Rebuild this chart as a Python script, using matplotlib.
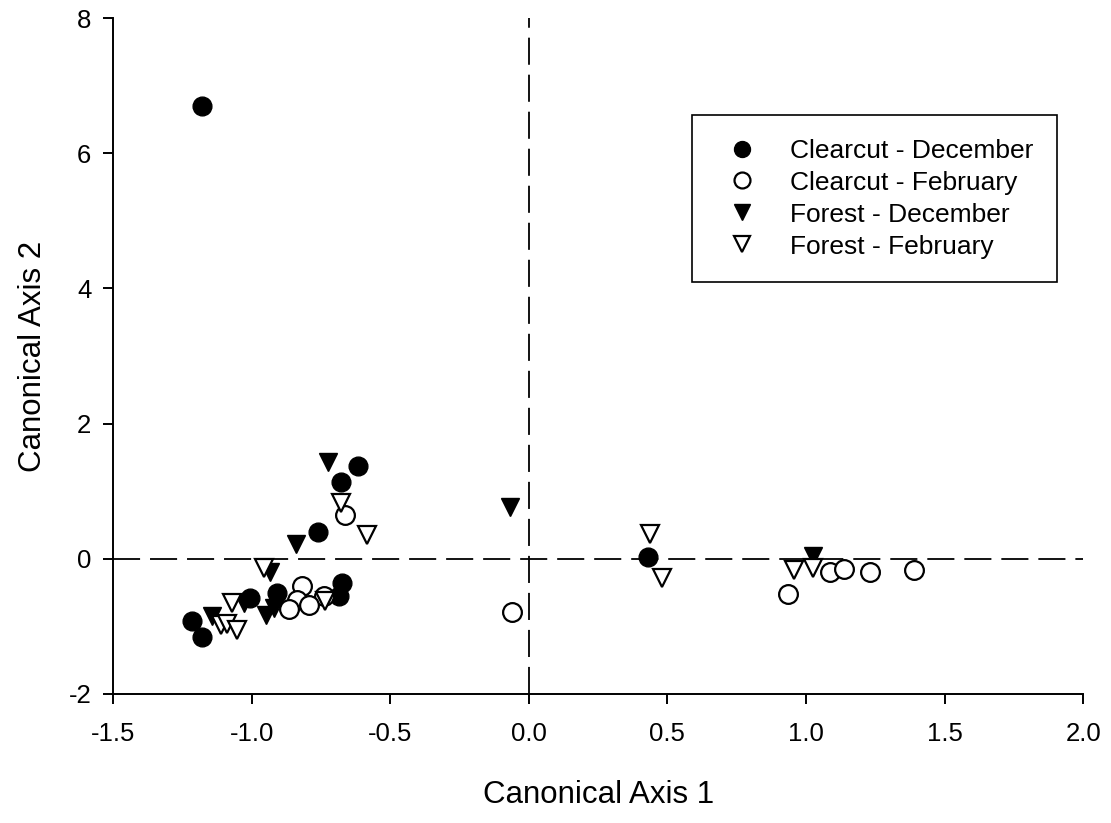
import matplotlib
matplotlib.use("Agg")
import matplotlib.pyplot as plt

plt.rcParams['font.family'] = ['Liberation Sans', 'DejaVu Sans']
plt.rcParams['axes.unicode_minus'] = False

# canonical scores per group
cc_dec_x = [-1.18, -0.615, -0.678, -0.759, -0.675, -0.685, -0.907, -1.006, -1.214, -1.18, 0.43]
cc_dec_y = [6.70, 1.37, 1.13, 0.40, -0.36, -0.55, -0.51, -0.58, -0.93, -1.16, 0.03]

cc_feb_x = [-0.663, -0.817, -0.739, -0.835, -0.793, -0.865, -0.059, 0.934, 1.088, 1.138, 1.232, 1.39]
cc_feb_y = [0.64, -0.41, -0.56, -0.61, -0.68, -0.75, -0.79, -0.52, -0.20, -0.16, -0.20, -0.17]

fo_dec_x = [-0.726, -0.841, -0.933, -0.949, -0.919, -1.027, -1.142, -0.069, 1.024]
fo_dec_y = [1.43, 0.22, -0.20, -0.83, -0.73, -0.66, -0.85, 0.77, 0.04]

fo_feb_x = [-0.676, -0.582, -0.957, -0.736, -1.07, -1.11, -1.087, -1.054, 0.438, 0.482, 0.957, 1.024]
fo_feb_y = [0.83, 0.355, -0.14, -0.63, -0.65, -0.98, -0.96, -1.05, 0.37, -0.29, -0.17, -0.14]

x_ticks = [-1.5, -1.0, -0.5, 0.0, 0.5, 1.0, 1.5, 2.0]
x_labels = ['-1.5', '-1.0', '-0.5', '0.0', '0.5', '1.0', '1.5', '2.0']
y_ticks = [-2, 0, 2, 4, 6, 8]

fig = plt.figure(figsize=(11.11, 8.23), dpi=100)
ax = fig.add_axes([0.1017, 0.157, 0.8733, 0.821])

ax.axhline(0, color='black', lw=1.3, dashes=(15, 5.5), zorder=1)
ax.axvline(0, color='black', lw=1.3, dashes=(15, 5.5), zorder=1)

ms = 13.5
ax.plot(cc_dec_x, cc_dec_y, 'o', ms=ms, mfc='black', mec='black', label='Clearcut - December', zorder=3)
ax.plot(cc_feb_x, cc_feb_y, 'o', ms=ms, mfc='white', mec='black', mew=1.6, label='Clearcut - February', zorder=3)
ax.plot(fo_dec_x, fo_dec_y, 'v', ms=ms, mfc='black', mec='black', label='Forest - December', zorder=3)
ax.plot(fo_feb_x, fo_feb_y, 'v', ms=ms, mfc='white', mec='black', mew=1.6, label='Forest - February', zorder=3)

ax.set_xlim(-1.5, 2.0)
ax.set_ylim(-2, 8)
ax.set_xticks(x_ticks)
ax.set_xticklabels(x_labels)
ax.set_yticks(y_ticks)
ax.spines['top'].set_visible(False)
ax.spines['right'].set_visible(False)
for s in ('left', 'bottom'):
    ax.spines[s].set_linewidth(1.4)
ax.tick_params(direction='out', length=7.5, width=1.4, labelsize=18.5)
ax.tick_params(axis='x', pad=13)
ax.tick_params(axis='y', pad=8)

ax.set_xlabel('Canonical Axis 1', fontsize=22.5, labelpad=24)
ax.set_ylabel('Canonical Axis 2', fontsize=22.5, labelpad=15)

leg = ax.legend(loc='upper left', bbox_to_anchor=(0.597, 0.8565), borderaxespad=0,
                fontsize=19, frameon=True, fancybox=False, edgecolor='black',
                framealpha=1, borderpad=0.9, handletextpad=0.8, labelspacing=0.3,
                markerscale=0.85)
leg.get_frame().set_linewidth(1.2)

fig.savefig('out.png', dpi=100)
